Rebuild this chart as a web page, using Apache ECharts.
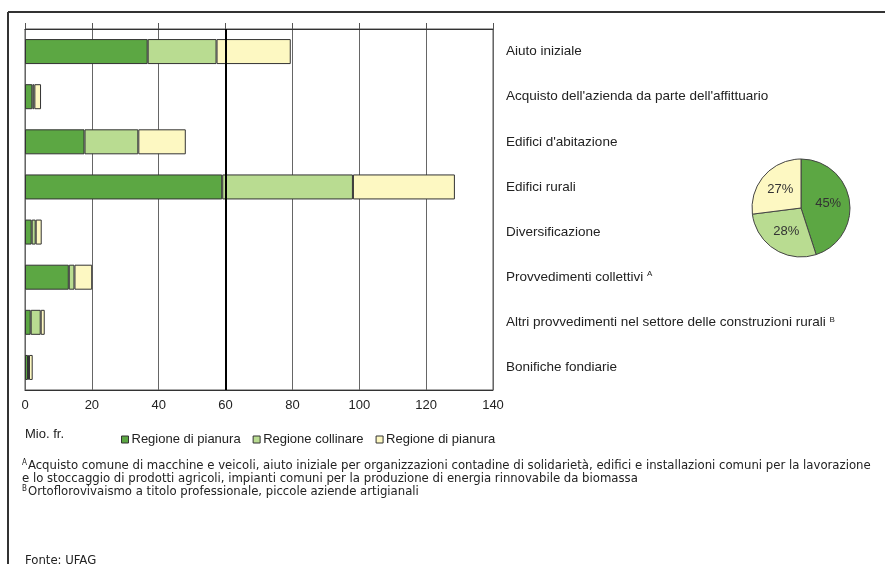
<!DOCTYPE html>
<html>
<head>
<meta charset="utf-8">
<script src="https://cdn.jsdelivr.net/npm/echarts@6/dist/echarts.min.js"></script>
<style>html,body{margin:0;padding:0;background:#fff}#c{width:885px;height:564px}</style>
</head>
<body>
<div id="c"></div>
<script>
const categories = ["Aiuto iniziale", "Acquisto dell'azienda da parte dell'affittuario", "Edifici d'abitazione", "Edifici rurali", "Diversificazione", "Provvedimenti collettivi {sup|A}", "Altri provvedimenti nel settore delle construzioni rurali {sup|B}", "Bonifiche fondiarie"];
const pianura = [36.7, 2.2, 17.8, 59.0, 2.0, 13.1, 1.7, 0.9];
const collinare = [20.6, 0.6, 16.1, 39.1, 1.2, 1.7, 3.0, 0.3];
const montagna = [22.2, 2.0, 14.2, 30.5, 1.8, 5.3, 1.2, 1.1];
const pieValues = [45, 28, 27];
const seriesNames = ["Regione di pianura", "Regione collinare", "Regione di pianura "];
const xTicks = [0, 20, 40, 60, 80, 100, 120, 140];
const colors = ["#5ca743", "#b9dc91", "#fdf8c2"];

const chart = echarts.init(document.getElementById('c'));
const font = "'Liberation Sans', Arial, sans-serif";
const narrow = "'Liberation Sans Narrow', 'DejaVu Sans Condensed', sans-serif";
const barStyle = c => ({ color: c, borderColor: '#333', borderWidth: 1 });

chart.setOption({
  animation: false,
  textStyle: { fontFamily: font },
  grid: { left: 25, right: 392, top: 29, bottom: 174, show: true, borderColor: '#555', borderWidth: 1 },
  xAxis: [{
    type: 'value', min: 0, max: 140, interval: 20, position: 'bottom',
    axisLine: { show: true, lineStyle: { color: '#333' } },
    axisTick: { show: false },
    axisLabel: { color: '#222', fontSize: 13, fontFamily: font, margin: 9, formatter: v => xTicks.includes(v) ? String(v) : '' },
    splitLine: { show: true, lineStyle: { color: '#666', width: 1 } }
  }, {
    type: 'value', min: 0, max: 140, interval: 20, position: 'top',
    axisLine: { show: true, lineStyle: { color: '#333' } },
    axisTick: { show: true, length: 6, lineStyle: { color: '#555' } },
    axisLabel: { show: false }, splitLine: { show: false }
  }],
  yAxis: {
    type: 'category', data: categories, inverse: true, position: 'right',
    axisLine: { show: false }, axisTick: { show: false },
    axisLabel: {
      color: '#222', fontSize: 13.5, fontFamily: font, margin: 13, align: 'left',
      rich: { sup: { fontSize: 8, fontFamily: font, verticalAlign: 'top', padding: [0, 0, 6, 0], color: '#222' } }
    }
  },
  legend: {
    left: 116, top: 428, itemWidth: 7, itemHeight: 7, itemGap: 12,
    icon: 'rect',
    itemStyle: { borderColor: '#333', borderWidth: 1 },
    textStyle: { fontSize: 13, fontFamily: font, color: '#222', padding: [0, 0, 0, -2] },
    formatter: n => n.trim(),
    data: seriesNames
  },
  series: [
    { name: seriesNames[0], type: 'bar', stack: 's', barWidth: 25, data: pianura, itemStyle: barStyle(colors[0]),
      markLine: { silent: true, symbol: 'none', label: { show: false }, lineStyle: { color: '#000', width: 2, type: 'solid' }, data: [{ xAxis: 60 }] } },
    { name: seriesNames[1], type: 'bar', stack: 's', barWidth: 25, data: collinare, itemStyle: barStyle(colors[1]) },
    { name: seriesNames[2], type: 'bar', stack: 's', barWidth: 25, data: montagna, itemStyle: barStyle(colors[2]) },
    {
      type: 'pie', center: [801, 208], radius: 49, startAngle: 90, clockwise: true,
      label: { position: 'inside', formatter: '{c}%', color: '#333', fontSize: 13, fontFamily: font },
      labelLine: { show: false },
      itemStyle: { borderColor: '#444', borderWidth: 1 },
      data: pieValues.map((v, i) => ({ value: v, name: seriesNames[i], itemStyle: { color: colors[i] } }))
    }
  ],
  graphic: [
    { type: 'line', shape: { x1: 8, y1: 12, x2: 885, y2: 12 }, style: { stroke: '#333', lineWidth: 2 } },
    { type: 'line', shape: { x1: 8, y1: 12, x2: 8, y2: 564 }, style: { stroke: '#333', lineWidth: 2 } },
    { type: 'text', left: 25, top: 428, style: { text: 'Mio. fr.', font: '13px ' + font, fill: '#222' } },
    { type: 'text', left: 22, top: 459, style: {
      text: '{sup|A}Acquisto comune di macchine e veicoli, aiuto iniziale per organizzazioni contadine di solidarietà, edifici e installazioni comuni per la lavorazione\ne lo stoccaggio di prodotti agricoli, impianti comuni per la produzione di energia rinnovabile da biomassa\n{sup|B}Ortoflorovivaismo a titolo professionale, piccole aziende artigianali',
      font: '13px ' + narrow, fill: '#222', lineHeight: 13,
      rich: { sup: { fontSize: 8, verticalAlign: 'top', fontFamily: narrow, padding: [0, 1, 5, 0] } }
    } },
    { type: 'text', left: 25, top: 554, style: { text: 'Fonte: UFAG', font: '13px ' + narrow, fill: '#222' } }
  ]
});
</script>
</body>
</html>
